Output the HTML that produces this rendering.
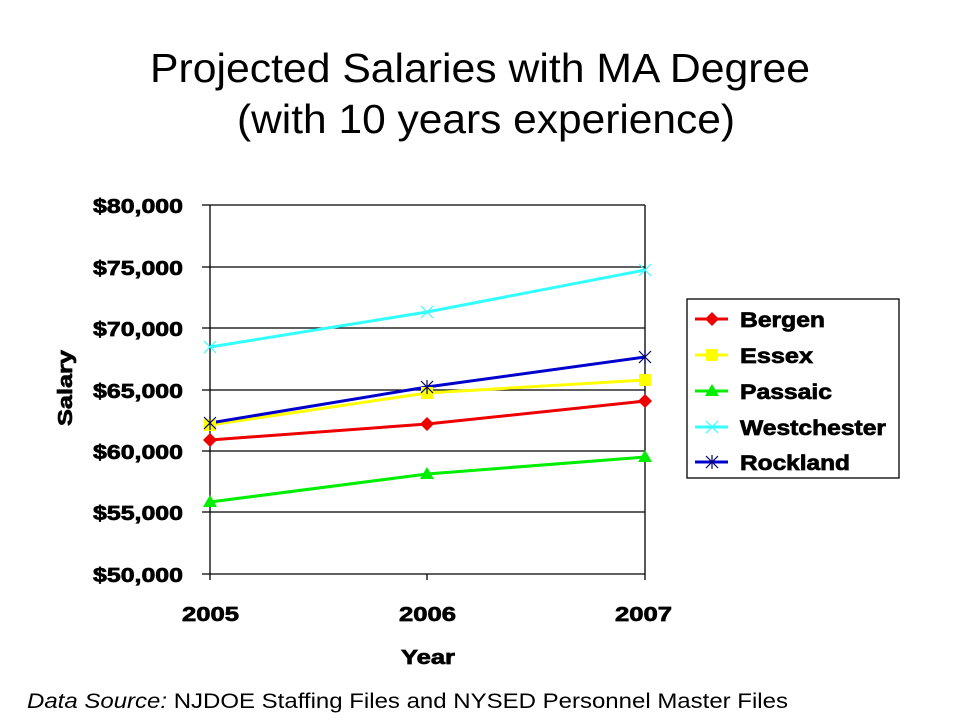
<!DOCTYPE html>
<html><head><meta charset="utf-8"><style>
body{margin:0;background:#fff;}
svg text{font-family:"Liberation Sans",Arial,sans-serif;}
</style></head><body>
<svg width="960" height="720" xmlns="http://www.w3.org/2000/svg">
<rect width="960" height="720" fill="#fff"/>
<text x="150" y="82" font-size="41" textLength="660" lengthAdjust="spacingAndGlyphs">Projected Salaries with MA Degree</text>
<text x="237" y="133" font-size="41" textLength="498" lengthAdjust="spacingAndGlyphs">(with 10 years experience)</text>
<g stroke="#000" stroke-width="1.3">
<line x1="202" y1="205" x2="645" y2="205"/>
<line x1="202" y1="267" x2="645" y2="267"/>
<line x1="202" y1="328" x2="645" y2="328"/>
<line x1="202" y1="390" x2="645" y2="390"/>
<line x1="202" y1="451" x2="645" y2="451"/>
<line x1="202" y1="512" x2="645" y2="512"/>
<line x1="202" y1="574" x2="645" y2="574"/>
<line x1="210" y1="205" x2="210" y2="580"/>
<line x1="645" y1="205" x2="645" y2="580"/>
<line x1="427" y1="574" x2="427" y2="580"/>
</g>
<g font-size="20" font-weight="bold" stroke="#000" stroke-width="0.7">
<text x="93" y="213" textLength="90" lengthAdjust="spacingAndGlyphs">$80,000</text>
<text x="93" y="275" textLength="90" lengthAdjust="spacingAndGlyphs">$75,000</text>
<text x="93" y="336" textLength="90" lengthAdjust="spacingAndGlyphs">$70,000</text>
<text x="93" y="398" textLength="90" lengthAdjust="spacingAndGlyphs">$65,000</text>
<text x="93" y="459" textLength="90" lengthAdjust="spacingAndGlyphs">$60,000</text>
<text x="93" y="520" textLength="90" lengthAdjust="spacingAndGlyphs">$55,000</text>
<text x="93" y="582" textLength="90" lengthAdjust="spacingAndGlyphs">$50,000</text>
<text x="182" y="621" textLength="57" lengthAdjust="spacingAndGlyphs">2005</text>
<text x="399" y="621" textLength="57" lengthAdjust="spacingAndGlyphs">2006</text>
<text x="615" y="621" textLength="57" lengthAdjust="spacingAndGlyphs">2007</text>
<text x="401" y="664" textLength="54" lengthAdjust="spacingAndGlyphs">Year</text>
<text transform="translate(72,426) rotate(-90)" textLength="76" lengthAdjust="spacingAndGlyphs">Salary</text>
</g>
<g fill="none" stroke-width="3">
<polyline points="210,347 427,312 645,270" stroke="#33ffff"/>
<polyline points="210,425 427,393 645,380" stroke="#ffff00"/>
<polyline points="210,423 427,387 645,357" stroke="#0000cc"/>
<polyline points="210,440 427,424 645,401" stroke="#ee0000"/>
<polyline points="210,502 427,474 645,457" stroke="#00ee00"/>
</g>
<g stroke="#33ffff" stroke-width="1.2">
<path d="M204,341l12,12M216,341l-12,12M421,306l12,12M433,306l-12,12M639,264l12,12M651,264l-12,12"/>
</g>
<g fill="#ffff00"><rect x="204" y="419" width="12" height="12"/><rect x="421" y="387" width="12" height="12"/><rect x="639" y="374" width="12" height="12"/></g>
<g stroke="#000066" stroke-width="1.2">
<path d="M204,417l12,12M216,417l-12,12M210,416v14M421,381l12,12M433,381l-12,12M427,380v14M639,351l12,12M651,351l-12,12M645,350v14"/>
</g>
<g fill="#ee0000"><path d="M210,433l7,7l-7,7l-7,-7z M427,417l7,7l-7,7l-7,-7z M645,394l7,7l-7,7l-7,-7z"/></g>
<g fill="#00ee00"><path d="M210,495l7,12h-14z M427,467l7,12h-14z M645,450l7,12h-14z"/></g>
<rect x="687" y="299" width="212" height="179" fill="#fff" stroke="#000" stroke-width="1.3"/>
<g stroke-width="3">
<line x1="695" y1="319" x2="728" y2="319" stroke="#ee0000"/>
<line x1="695" y1="355" x2="728" y2="355" stroke="#ffff00"/>
<line x1="695" y1="391" x2="728" y2="391" stroke="#00ee00"/>
<line x1="695" y1="427" x2="728" y2="427" stroke="#33ffff"/>
<line x1="695" y1="462" x2="728" y2="462" stroke="#0000cc"/>
</g>
<path d="M712,312l7,7l-7,7l-7,-7z" fill="#ee0000"/>
<rect x="706" y="349" width="12" height="12" fill="#ffff00"/>
<path d="M712,384l7,12h-14z" fill="#00ee00"/>
<path d="M706,421l12,12M718,421l-12,12" stroke="#33ffff" stroke-width="1.2"/>
<path d="M706,456l12,12M718,456l-12,12M712,455v14" stroke="#000066" stroke-width="1.2"/>
<g font-size="21" font-weight="bold" stroke="#000" stroke-width="0.7">
<text x="740" y="327" textLength="85" lengthAdjust="spacingAndGlyphs">Bergen</text>
<text x="740" y="363" textLength="73" lengthAdjust="spacingAndGlyphs">Essex</text>
<text x="740" y="399" textLength="92" lengthAdjust="spacingAndGlyphs">Passaic</text>
<text x="740" y="435" textLength="146" lengthAdjust="spacingAndGlyphs">Westchester</text>
<text x="740" y="470" textLength="110" lengthAdjust="spacingAndGlyphs">Rockland</text>
</g>
<text x="27" y="708" font-size="21" textLength="761" lengthAdjust="spacingAndGlyphs"><tspan font-style="italic">Data Source:</tspan> NJDOE Staffing Files and NYSED Personnel Master Files</text>
</svg>
</body></html>
